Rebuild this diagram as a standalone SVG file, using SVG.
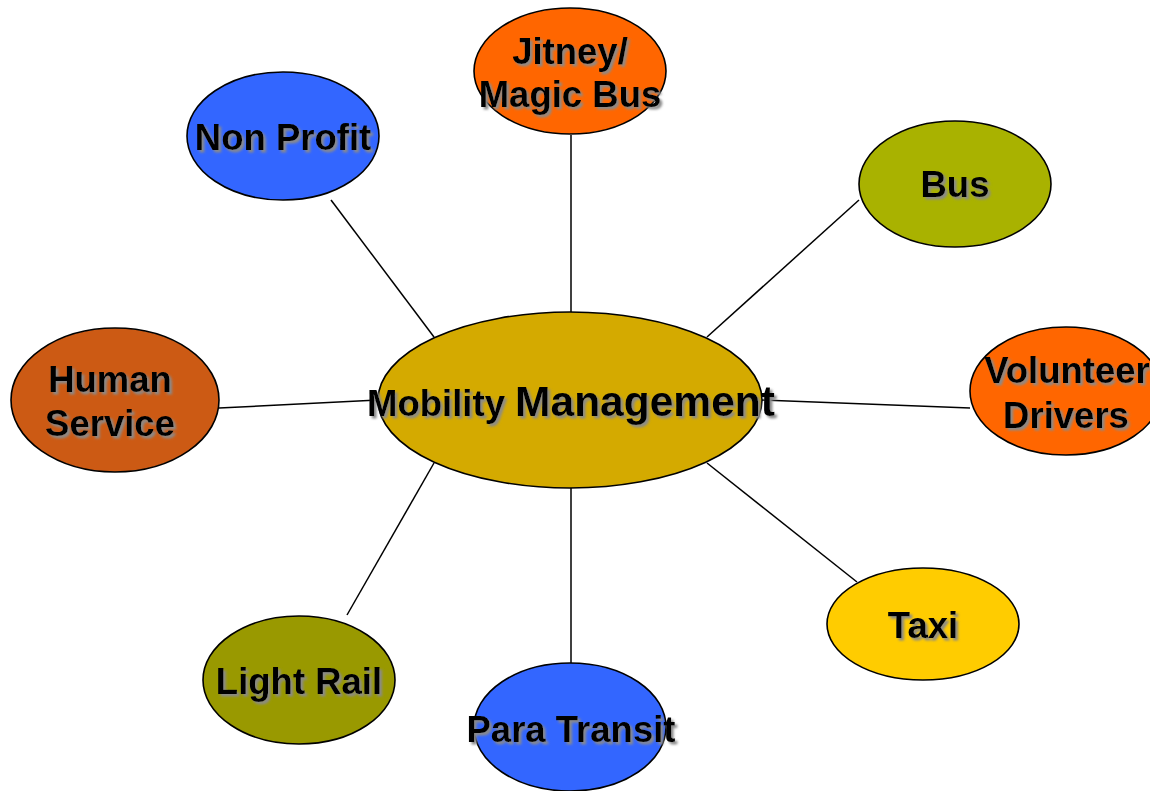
<svg xmlns="http://www.w3.org/2000/svg" width="1150" height="791" viewBox="0 0 1150 791">
<defs>
<filter id="sh" x="-10%" y="-20%" width="120%" height="150%">
<feDropShadow dx="2.5" dy="2.5" stdDeviation="1.2" flood-color="#8a8a8a" flood-opacity="1"/>
</filter>
</defs>
<style>
.n{stroke:#000;stroke-width:1.6}
.t{font-family:"Liberation Sans",Arial,sans-serif;font-weight:bold;font-size:36.5px;fill:#000;text-anchor:middle;filter:url(#sh)}
.c line{stroke:#000;stroke-width:1.5}
</style>
<rect width="1150" height="791" fill="#fff"/>
<g class="c" id="connectors">
<line x1="571" y1="135" x2="571" y2="312"/>
<line x1="331" y1="200" x2="434" y2="337"/>
<line x1="859" y1="200" x2="707" y2="337"/>
<line x1="970" y1="408" x2="762" y2="400"/>
<line x1="219" y1="408" x2="378" y2="400"/>
<line x1="857" y1="582" x2="707" y2="463"/>
<line x1="347" y1="615" x2="434" y2="463"/>
<line x1="571" y1="488" x2="571" y2="663"/>
</g>
<g id="center">
<ellipse class="n" cx="570" cy="400" rx="192" ry="88" fill="#D4AA00"/>
<text class="t" x="571" y="416"><tspan font-size="36.5">Mobility </tspan><tspan font-size="42.5">Management</tspan></text>
</g>
<g id="jitney">
<ellipse class="n" cx="570" cy="71" rx="96" ry="63" fill="#FF6600"/>
<text class="t" x="570" y="64">Jitney/</text>
<text class="t" x="570" y="107">Magic Bus</text>
</g>
<g id="nonprofit">
<ellipse class="n" cx="283" cy="136" rx="96" ry="64" fill="#3366FF"/>
<text class="t" x="283" y="150">Non Profit</text>
</g>
<g id="bus">
<ellipse class="n" cx="955" cy="184" rx="96" ry="63" fill="#A9B200"/>
<text class="t" x="955" y="197">Bus</text>
</g>
<g id="volunteer">
<ellipse class="n" cx="1066" cy="391" rx="96" ry="64" fill="#FF6600"/>
<text class="t" x="1067" y="383">Volunteer</text>
<text class="t" x="1066" y="428">Drivers</text>
</g>
<g id="human">
<ellipse class="n" cx="115" cy="400" rx="104" ry="72" fill="#CC5A14"/>
<text class="t" x="110" y="392">Human</text>
<text class="t" x="110" y="436">Service</text>
</g>
<g id="taxi">
<ellipse class="n" cx="923" cy="624" rx="96" ry="56" fill="#FFCC00"/>
<text class="t" x="923" y="638">Taxi</text>
</g>
<g id="lightrail">
<ellipse class="n" cx="299" cy="680" rx="96" ry="64" fill="#999900"/>
<text class="t" x="299" y="694">Light Rail</text>
</g>
<g id="paratransit">
<ellipse class="n" cx="570" cy="727" rx="96" ry="64" fill="#3366FF"/>
<text class="t" x="571" y="742">Para Transit</text>
</g>
</svg>
